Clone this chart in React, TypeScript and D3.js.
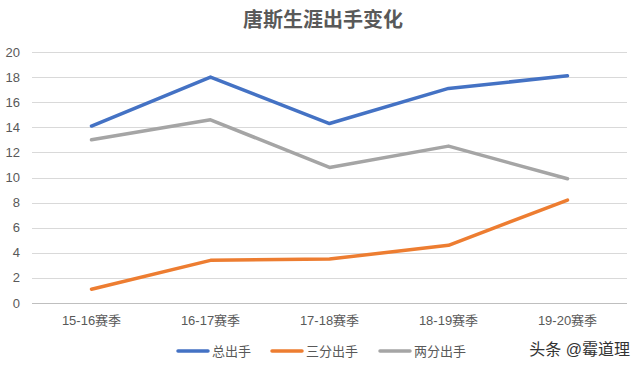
import React, { useEffect, useRef } from 'react';
import * as d3 from 'd3';

const seasons = ['15-16赛季', '16-17赛季', '17-18赛季', '18-19赛季', '19-20赛季'];
const totalShots = [14.1, 18.0, 14.3, 17.1, 18.1];
const threeShots = [1.1, 3.4, 3.5, 4.6, 8.2];
const twoShots = [13.0, 14.6, 10.8, 12.5, 9.9];
const yTicks = [0, 2, 4, 6, 8, 10, 12, 14, 16, 18, 20];

const seriesNames = ['总出手', '三分出手', '两分出手'];
const seriesColors = ['#4472C4', '#ED7D31', '#A5A5A5'];

const FONT = '"Liberation Sans", "Noto Sans CJK SC", sans-serif';

function App() {
    const svgRef = useRef<SVGSVGElement>(null);

    useEffect(() => {
        const svg = d3.select(svgRef.current);
        svg.selectAll('*').remove();

        const width = 640;
        const height = 367;
        const margin = { top: 52, right: 13, bottom: 64, left: 32 };

        const x = d3.scaleBand().domain(seasons).range([margin.left, width - margin.right]);
        const y = d3.scaleLinear().domain([0, 20]).range([height - margin.bottom, margin.top]);

        svg.append('rect').attr('width', width).attr('height', height).attr('fill', '#fff');

        // title
        svg.append('text')
            .attr('x', 323)
            .attr('y', 27)
            .attr('text-anchor', 'middle')
            .style('font-family', FONT)
            .style('font-size', '20px')
            .style('font-weight', 'bold')
            .style('fill', '#595959')
            .text('唐斯生涯出手变化');

        // grid lines
        svg.append('g')
            .selectAll('line')
            .data(yTicks)
            .enter()
            .append('line')
            .attr('x1', margin.left)
            .attr('x2', width - margin.right)
            .attr('y1', d => Math.round(y(d)) + 0.5)
            .attr('y2', d => Math.round(y(d)) + 0.5)
            .attr('stroke', d => (d === 0 ? '#BFBFBF' : '#D9D9D9'))
            .attr('stroke-width', 1);

        // y labels
        svg.append('g')
            .selectAll('text')
            .data(yTicks)
            .enter()
            .append('text')
            .attr('x', 20)
            .attr('y', d => y(d))
            .attr('dy', '0.35em')
            .attr('text-anchor', 'end')
            .style('font-family', FONT)
            .style('font-size', '13px')
            .style('fill', '#595959')
            .text(d => d);

        // x labels
        svg.append('g')
            .selectAll('text')
            .data(seasons)
            .enter()
            .append('text')
            .attr('x', d => (x(d) as number) + x.bandwidth() / 2)
            .attr('y', 325)
            .attr('text-anchor', 'middle')
            .style('font-family', FONT)
            .style('font-size', '13px')
            .style('fill', '#595959')
            .text(d => d);

        const line = d3.line<number>()
            .x((_, i) => (x(seasons[i]) as number) + x.bandwidth() / 2)
            .y(d => y(d));

        [totalShots, threeShots, twoShots].forEach((vals, i) => {
            svg.append('path')
                .datum(vals)
                .attr('fill', 'none')
                .attr('stroke', seriesColors[i])
                .attr('stroke-width', 3.5)
                .attr('stroke-linecap', 'round')
                .attr('stroke-linejoin', 'round')
                .attr('d', line);
        });

        // legend
        const legendX = [178, 272, 380];
        seriesNames.forEach((name, i) => {
            const g = svg.append('g').attr('transform', `translate(${legendX[i]},351)`);
            g.append('line')
                .attr('x1', 0)
                .attr('x2', 30)
                .attr('stroke', seriesColors[i])
                .attr('stroke-width', 3.5)
                .attr('stroke-linecap', 'round');
            g.append('text')
                .attr('x', 34)
                .attr('dy', '0.35em')
                .style('font-family', FONT)
                .style('font-size', '13px')
                .style('fill', '#595959')
                .text(name);
        });

        // watermark
        svg.append('text')
            .attr('x', 630)
            .attr('y', 349)
            .attr('dy', '0.35em')
            .attr('text-anchor', 'end')
            .style('font-family', FONT)
            .style('font-size', '16px')
            .style('fill', '#333')
            .text('头条 @霉道理');
    }, []);

    return (
        <div style={{ position: 'absolute', left: 0, top: 0 }}>
            <svg ref={svgRef} width={640} height={367}></svg>
        </div>
    );
}

export default App;
